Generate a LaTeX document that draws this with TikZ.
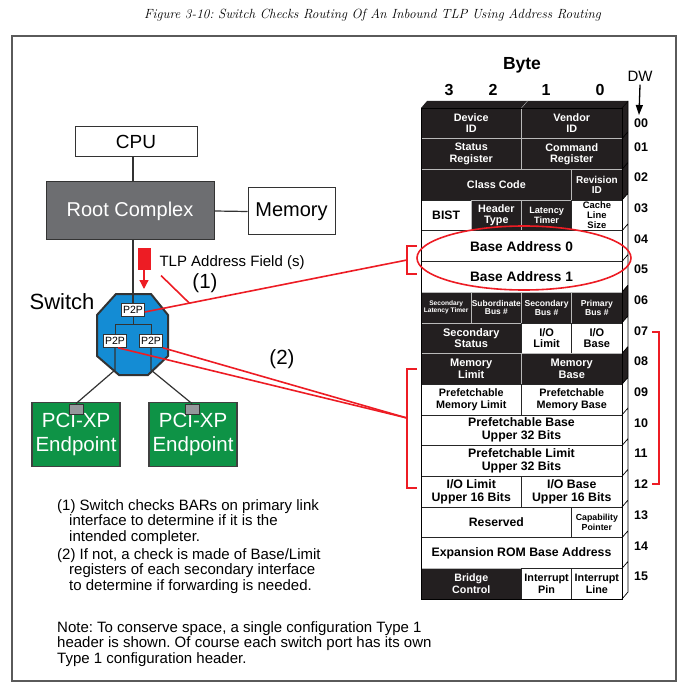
\documentclass[tikz,border=0pt]{standalone}
\usepackage{fontspec}
\setsansfont{Liberation Sans}
\usetikzlibrary{arrows.meta,calc}
\definecolor{rcgray}{RGB}{109,110,113}
\definecolor{swblue}{RGB}{20,140,212}
\definecolor{epgreen}{RGB}{14,147,70}
\definecolor{congray}{RGB}{150,152,156}
\definecolor{mkred}{RGB}{237,28,36}
\definecolor{cellblk}{RGB}{35,31,32}
\definecolor{framegray}{RGB}{90,90,90}
\frenchspacing

\begin{document}
\begin{tikzpicture}[x=1pt,y=-1pt,
  fs/.style={font=\sffamily\bfseries\fontsize{#1}{1.05\dimexpr#1pt\relax}\selectfont},
  rs/.style={font=\sffamily\fontsize{#1}{1.17\dimexpr#1pt\relax}\selectfont},
  cell/.style={line width=0.6pt, inner sep=0pt, outer sep=0pt, align=center, minimum height=30.7pt, fs=10.8},
  blk/.style={cell, fill=cellblk, draw=gray!55, text=white},
  wht/.style={cell, fill=white, draw=black!85, text=black},
  box/.style={draw=black!80, line width=1pt, inner sep=0pt, align=center, rs=20},
  p2p/.style={draw=black!80, fill=white, line width=0.6pt, inner sep=0pt, minimum width=23pt, minimum height=13pt, rs=10.5},
  wire/.style={black!80, line width=1.2pt},
  redl/.style={mkred, line width=1.6pt}]
\useasboundingbox (0,0) rectangle (688,692);
\draw[framegray, line width=1.3pt] (12,36) rectangle (676,681);
\node (title) at (372.5,15) {\fontsize{13.3}{16}\selectfont\itshape Figure 3-10: Switch Checks Routing Of An Inbound TLP Using Address Routing};

% config header, front face
\node[fs=17.5] (byte) at (522,65) {Byte};
\node[fs=16] (b3) at (449,90) {3};
\node[fs=16] (b2) at (493,90) {2};
\node[fs=16] (b1) at (546,90) {1};
\node[fs=16] (b0) at (600,90) {0};
\fill[cellblk] (421,108) -- (427,101) -- (628,101) -- (622,108) -- cycle;
\draw[gray!55] (521.5,108) -- (527.5,101);
\fill[white] (622,108) -- (628,101) -- (628,592) -- (622,599) -- cycle;
\fill[cellblk] (622,108) -- (628,101) -- (628,193.1) -- (622,200.1) -- cycle;
\fill[cellblk] (622,292.1) -- (628,285.1) -- (628,315.8) -- (622,322.8) -- cycle;
\fill[cellblk] (622,353.5) -- (628,346.5) -- (628,377.2) -- (622,384.2) -- cycle;

\node[blk, minimum width=100.5pt] (devid) at (471.25,123.35) {Device\\ID};
\node[blk, minimum width=100.5pt] (venid) at (571.75,123.35) {Vendor\\ID};
\node[blk, minimum width=100.5pt] (stat) at (471.25,154.04) {Status\\Register};
\node[blk, minimum width=100.5pt] (cmd) at (571.75,154.04) {Command\\Register};
\node[blk, minimum width=150.75pt] (class) at (496.375,184.73) {Class Code};
\node[blk, minimum width=50.25pt, fs=10] (rev) at (596.875,184.73) {Revision\\ID};
\node[wht, minimum width=50.25pt, fs=12.2] (bist) at (446.125,215.42) {BIST};
\node[blk, minimum width=50.25pt] (htype) at (496.375,215.42) {Header\\Type};
\node[blk, minimum width=50.25pt, fs=9.2] (lat) at (546.625,215.42) {Latency\\Timer};
\node[wht, minimum width=50.25pt, fs=9.4] (cache) at (596.875,215.42) {Cache\\Line\\Size};
\node[wht, minimum width=201pt, fs=13.7] (bar0) at (521.5,246.11) {Base Address 0};
\node[wht, minimum width=201pt, fs=13.7] (bar1) at (521.5,276.80) {Base Address 1};
\node[blk, minimum width=50.25pt, fs=6.6] (seclat) at (446.125,307.49) {Secondary\\Latency Timer};
\node[blk, minimum width=50.25pt, fs=8.4] (subbus) at (496.375,307.49) {Subordinate\\Bus \#};
\node[blk, minimum width=50.25pt, fs=8.6] (secbus) at (546.625,307.49) {Secondary\\Bus \#};
\node[blk, minimum width=50.25pt, fs=8.6] (pribus) at (596.875,307.49) {Primary\\Bus \#};
\node[blk, minimum width=100.5pt, fs=11] (secstat) at (471.25,338.18) {Secondary\\Status};
\node[wht, minimum width=50.25pt, fs=11] (iolim) at (546.625,338.18) {I/O\\Limit};
\node[wht, minimum width=50.25pt, fs=11] (iobase) at (596.875,338.18) {I/O\\Base};
\node[blk, minimum width=100.5pt, fs=11] (memlim) at (471.25,368.87) {Memory\\Limit};
\node[blk, minimum width=100.5pt, fs=11] (membase) at (571.75,368.87) {Memory\\Base};
\node[wht, minimum width=100.5pt] (pflim) at (471.25,399.56) {Prefetchable\\Memory Limit};
\node[wht, minimum width=100.5pt] (pfbase) at (571.75,399.56) {Prefetchable\\Memory Base};
\node[wht, minimum width=201pt, fs=12.3] (pfbaseu) at (521.5,430.25) {Prefetchable Base\\Upper 32 Bits};
\node[wht, minimum width=201pt, fs=12.3] (pflimu) at (521.5,460.94) {Prefetchable Limit\\Upper 32 Bits};
\node[wht, minimum width=100.5pt, fs=12.3] (iolimu) at (471.25,491.63) {I/O Limit\\Upper 16 Bits};
\node[wht, minimum width=100.5pt, fs=12.3] (iobaseu) at (571.75,491.63) {I/O Base\\Upper 16 Bits};
\node[wht, minimum width=150.75pt, fs=12.2] (resv) at (496.375,522.32) {Reserved};
\node[wht, minimum width=50.25pt, fs=8.8] (cap) at (596.875,522.32) {Capability\\Pointer};
\node[wht, minimum width=201pt, fs=12.3] (rom) at (521.5,553.01) {Expansion ROM Base Address};
\node[blk, minimum width=100.5pt, fs=10.7] (bctl) at (471.25,583.70) {Bridge\\Control};
\node[wht, minimum width=50.25pt, fs=10.8] (ipin) at (546.625,583.70) {Interrupt\\Pin};
\node[wht, minimum width=50.25pt, fs=10.8] (iline) at (596.875,583.70) {Interrupt\\Line};

% side face and outline
\draw[black, line width=0.7pt] (622,108) -- (628,101) (622,138.7) -- (628,131.7) (622,169.4) -- (628,162.4)
  (622,200.1) -- (628,193.1) (622,230.8) -- (628,223.8) (622,261.5) -- (628,254.5) (622,292.1) -- (628,285.1)
  (622,322.8) -- (628,315.8) (622,353.5) -- (628,346.5) (622,384.2) -- (628,377.2) (622,414.9) -- (628,407.9)
  (622,445.6) -- (628,438.6) (622,476.3) -- (628,469.3) (622,507) -- (628,500) (622,537.7) -- (628,530.7)
  (622,568.4) -- (628,561.4) (628,101) -- (628,592) -- (622,599);
\draw[black, line width=0.9pt] (421,108) rectangle (622,599);

% DW column
\node[rs=15] (dw) at (640,76) {DW};
\coordinate (dwend) at (639,115);
\draw[black, line width=1.3pt, -{Triangle[length=10pt,width=7pt]}] (dw.south) -- (dwend);
\node[fs=12.5] (dw00) at (641,123) {00};
\node[fs=12.5] (dw01) at (641,146.7) {01};
\node[fs=12.5] (dw02) at (641,177.4) {02};
\node[fs=12.5] (dw03) at (641,208.1) {03};
\node[fs=12.5] (dw04) at (641,238.8) {04};
\node[fs=12.5] (dw05) at (641,269.5) {05};
\node[fs=12.5] (dw06) at (641,300.1) {06};
\node[fs=12.5] (dw07) at (641,330.8) {07};
\node[fs=12.5] (dw08) at (641,361.5) {08};
\node[fs=12.5] (dw09) at (641,392.2) {09};
\node[fs=12.5] (dw10) at (641,422.9) {10};
\node[fs=12.5] (dw11) at (641,453.6) {11};
\node[fs=12.5] (dw12) at (641,484.3) {12};
\node[fs=12.5] (dw13) at (641,515) {13};
\node[fs=12.5] (dw14) at (641,545.7) {14};
\node[fs=12.5] (dw15) at (641,576.4) {15};

% red marks on the header
\draw[redl] (524,258) ellipse [x radius=107, y radius=32];
\draw[redl] (417,246) -- (407,246) -- (407,274) -- (417,274);
\coordinate (brA) at (407,260);
\draw[redl] (417,369) -- (407,369) -- (407,488) -- (417,488);
\coordinate (brB) at (407,418);
\draw[redl] (652,332) -- (659,332) -- (659,484) -- (652,484);

% system
\node[box, minimum width=122pt, minimum height=30pt, rs=19] (cpu) at (136,142) {CPU};
\node[box, fill=rcgray, text=white, minimum width=168pt, minimum height=58pt] (rc) at (130,211) {Root Complex};
\node[box, minimum width=87pt, minimum height=47pt] (mem) at (291.5,211.5) {Memory};
\draw[wire] (rc.east) -- (mem.west);

\node[rs=22] (swlbl) at (62,302) {Switch};
\draw[fill=swblue, draw=black!80, line width=2pt] (116,294) -- (151,294) -- (168,315) -- (168,356) -- (148,375) -- (119,375) -- (97,356) -- (97,315) -- cycle;
\node[p2p] (p2pa) at (133,310) {P2P};
\node[p2p] (p2pb) at (115,341) {P2P};
\node[p2p] (p2pc) at (151,341) {P2P};
\draw[wire] (cpu.south -| p2pa) -- (rc.north -| p2pa);
\draw[wire] (rc.south -| p2pa) -- (p2pa.north);
\coordinate (sjoin) at (133,324);
\draw[wire, line width=1pt] (p2pa.south) -- (sjoin) -| (p2pb.north);
\draw[wire, line width=1pt] (sjoin) -| (p2pc.north);

\node[box, fill=epgreen, text=white, draw=black!75, line width=1.5pt, minimum width=88pt, minimum height=64pt, rs=20.5] (epa) at (76,434.5) {PCI-XP\\Endpoint};
\node[box, fill=epgreen, text=white, draw=black!75, line width=1.5pt, minimum width=88pt, minimum height=64pt, rs=20.5] (epb) at (193,434.5) {PCI-XP\\Endpoint};
\node[draw=black!80, fill=congray, line width=0.8pt, minimum width=14pt, minimum height=10pt, inner sep=0pt] (cona) at (76,409) {};
\node[draw=black!80, fill=congray, line width=0.8pt, minimum width=14pt, minimum height=10pt, inner sep=0pt] (conb) at (192,409) {};
\coordinate (swbl) at (115,370);
\coordinate (swbr) at (151,370);
\draw[wire] (p2pb.south) -- (swbl) -- (cona.north);
\draw[wire] (p2pc.south) -- (swbr) -- (conb.north);

% TLP
\node[fill=mkred, minimum width=13pt, minimum height=22pt, inner sep=0pt] (tlpbar) at (144,259) {};
\coordinate (tlpend) at (144,289);
\draw[mkred, line width=1.3pt, -{Triangle[length=9pt,width=9pt]}] (tlpbar.south) -- (tlpend);
\node[rs=15, anchor=west] (tlp) at (156,263) {TLP Address Field (s)};
\node[rs=20.5] (one) at (205,283) {(1)};
\node[rs=20.5] (two) at (282,359) {(2)};
\draw[redl] ([yshift=-2pt]p2pa.east) -- (brA);
\draw[redl] ([xshift=5pt,yshift=-2pt]tlp.south west) -- ($([yshift=-2pt]p2pa.east)!0.17!(brA)$);
\draw[redl] ([xshift=3pt]p2pb.south) -- (brB);
\draw[redl] (p2pc.south east) -- (brB);

% notes
\node[anchor=north west, inner sep=0pt, align=left, font=\sffamily\fontsize{15}{15.5}\selectfont] (notes) at (57,499) {(1) Switch checks BARs on primary link\\
\hspace*{12pt}interface to determine if it is the\\
\hspace*{12pt}intended completer.\\[2.5pt]
(2) If not, a check is made of Base/Limit\\
\hspace*{12pt}registers of each secondary interface\\
\hspace*{12pt}to determine if forwarding is needed.};
\node[anchor=north west, inner sep=0pt, align=left, font=\sffamily\fontsize{15}{15.5}\selectfont] (note) at (57,621) {Note: To conserve space, a single configuration Type 1\\
header is shown. Of course each switch port has its own\\
Type 1 configuration header.};
\end{tikzpicture}
\end{document}
